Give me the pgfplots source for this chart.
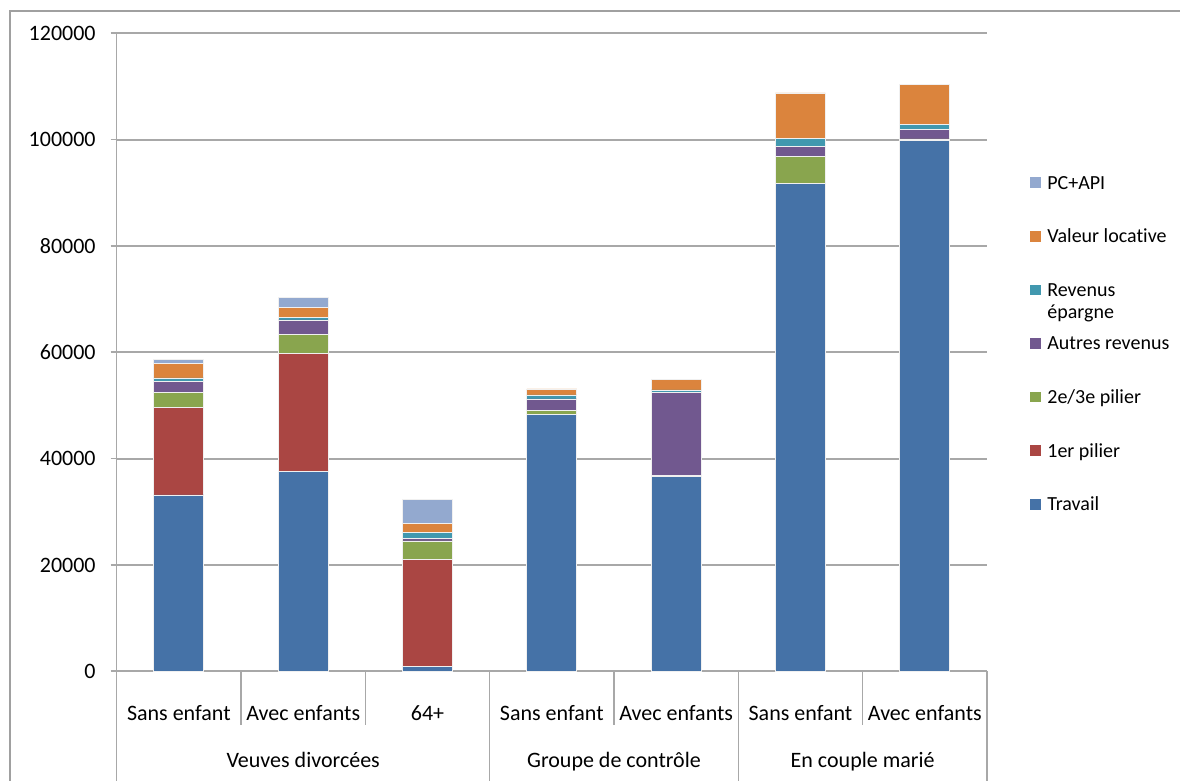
\documentclass[border=0pt]{standalone}
\usepackage{pgfplots}
\pgfplotsset{compat=1.18}
\usepackage{fontspec}
\setmainfont{Carlito}[Ligatures=NoCommon]
\definecolor{cTravail}{HTML}{4572A7}
\definecolor{cPremier}{HTML}{AA4643}
\definecolor{cDeux}{HTML}{89A54E}
\definecolor{cAutres}{HTML}{71588F}
\definecolor{cEpargne}{HTML}{4198AF}
\definecolor{cLoc}{HTML}{DB843D}
\definecolor{cPC}{HTML}{93A9CF}
\definecolor{gridc}{HTML}{A8A8A8}
\definecolor{framec}{HTML}{A0A0A0}
\begin{document}
\begin{tikzpicture}
\useasboundingbox (0pt,0pt) rectangle (590pt,390.5pt);
\draw[framec, line width=0.6pt] (5pt,-2pt) -- (5pt,385pt) -- (595pt,385pt);
\begin{axis}[
  at={(58.35pt,54.85pt)}, anchor=south west,
  scale only axis, width=435.15pt, height=319pt,
  ybar stacked, bar width=25pt,
  xmin=-0.5, xmax=6.5, ymin=0, ymax=120000,
  xtick={0,1,2,3,4,5,6},
  xticklabels={Sans enfant,Avec enfants,64+,Sans enfant,Avec enfants,Sans enfant,Avec enfants},
  major x tick style={draw=none},
  xticklabel style={anchor=base, text height=7.2pt, text depth=0pt, inner sep=0pt, yshift=-21.85pt},
  ytick={0,20000,40000,60000,80000,100000,120000},
  yticklabels={0,20000,40000,60000,80000,100000,120000},
  scaled y ticks=false,
  yticklabel style={anchor=east, inner sep=0pt, xshift=-7.35pt},
  tick label style={font=\fontsize{11}{13}\selectfont},
  tick align=outside, major tick length=3pt,
  ytick style={gridc, line width=0.8pt},
  axis x line*=bottom, axis y line*=left,
  axis line style={gridc, line width=0.8pt},
  ymajorgrids, grid style={gridc, line width=0.9pt},
  clip=false,
  every axis plot/.append style={draw=white!88!gray, line width=0.4pt},
  reverse legend,
  legend image code/.code={\fill[#1,draw=none] (0pt,-2.65pt) rectangle (5.3pt,2.65pt);},
  legend style={at={(1.0494,0.7824)}, anchor=north west, draw=none, fill=none,
    inner sep=0pt, outer sep=0pt, row sep=16.2pt, column sep=3.4pt,
    font=\fontsize{10}{12}\selectfont,
    nodes={inner sep=0pt, text height=8.5pt, text depth=2.1pt},
    cells={anchor=west}},
]
\addplot[fill=cTravail] coordinates {(0,33160) (1,37540) (2,870) (3,48260) (4,36600) (5,91790) (6,99800)};
\addplot[fill=cPremier] coordinates {(0,16420) (1,22200) (2,20120) (3,0) (4,0) (5,0) (6,0)};
\addplot[fill=cDeux] coordinates {(0,2820) (1,3650) (2,3520) (3,760) (4,320) (5,5070) (6,320)};
\addplot[fill=cAutres] coordinates {(0,2070) (1,2690) (2,430) (3,2200) (4,15480) (5,1810) (6,1750)};
\addplot[fill=cEpargne] coordinates {(0,700) (1,500) (2,1130) (3,750) (4,510) (5,1580) (6,940)};
\addplot[fill=cLoc] coordinates {(0,2690) (1,1810) (2,1820) (3,1130) (4,2010) (5,8520) (6,7600)};
\addplot[fill=cPC] coordinates {(0,750) (1,1880) (2,4390) (3,0) (4,0) (5,0) (6,0)};
\legend{Travail,1er pilier,2e/3e pilier,Autres revenus,{\rlap{\raisebox{-11pt}[0pt][0pt]{épargne}}Revenus},Valeur locative,PC+API}
% category separators
\draw[gridc, line width=0.6pt] (axis cs:-0.5,0) -- ++(0pt,-56pt);
\draw[gridc, line width=0.6pt] (axis cs:0.5,0) -- ++(0pt,-27pt);
\draw[gridc, line width=0.6pt] (axis cs:1.5,0) -- ++(0pt,-27pt);
\draw[gridc, line width=0.6pt] (axis cs:2.5,0) -- ++(0pt,-56pt);
\draw[gridc, line width=0.6pt] (axis cs:3.5,0) -- ++(0pt,-27pt);
\draw[gridc, line width=0.6pt] (axis cs:4.5,0) -- ++(0pt,-56pt);
\draw[gridc, line width=0.6pt] (axis cs:5.5,0) -- ++(0pt,-27pt);
\draw[gridc, line width=0.6pt] (axis cs:6.5,0) -- ++(0pt,-56pt);
% group labels
\node[anchor=base, inner sep=0pt, font=\fontsize{11}{13}\selectfont] at ([yshift=-48.35pt]axis cs:1,0) {Veuves divorcées};
\node[anchor=base, inner sep=0pt, font=\fontsize{11}{13}\selectfont] at ([yshift=-48.35pt]axis cs:3.5,0) {Groupe de contrôle};
\node[anchor=base, inner sep=0pt, font=\fontsize{11}{13}\selectfont] at ([yshift=-48.35pt]axis cs:5.5,0) {En couple marié};
\end{axis}
\end{tikzpicture}
\end{document}
